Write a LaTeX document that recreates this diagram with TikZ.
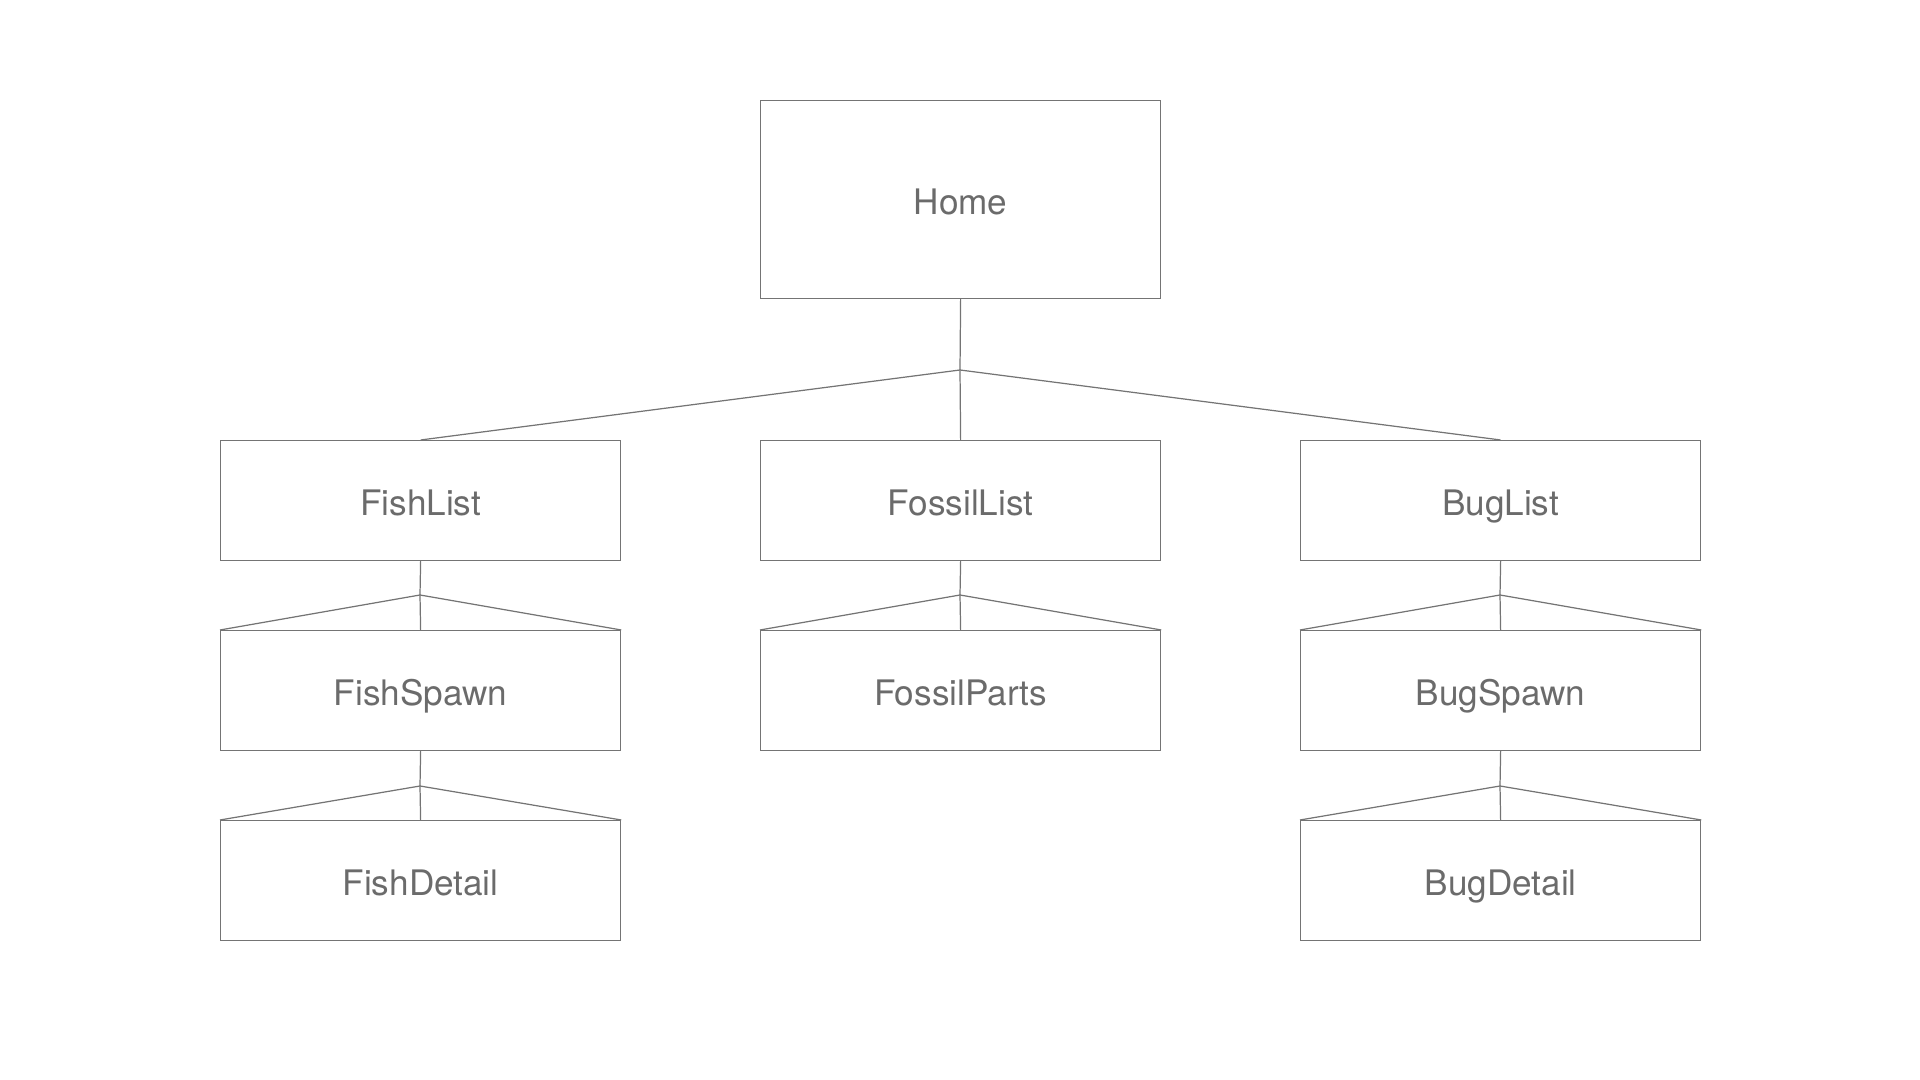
\documentclass[tikz,border=0pt]{standalone}
\usepackage{fontspec}
\setmainfont{TeX Gyre Heros}
\definecolor{linegray}{HTML}{747474}
\definecolor{textgray}{HTML}{6B6B6B}
\begin{document}
\begin{tikzpicture}[
  box/.style={rectangle, draw=linegray, line width=0.35pt, minimum width=40mm, minimum height=12mm, text=textgray, font=\fontsize{10}{12}\selectfont, text height=0.86em, text depth=0pt, anchor=north west},
  link/.style={draw=linegray, line width=0.35pt}
]
\useasboundingbox (0,0) rectangle (19.2,10.8);

\node (rect) [box, minimum height=19.8mm] at (7.6,9.8) {Home};

\node (rectA) [box] at (2.2,6.4) {FishList};
\node (rectB) [box] at (7.6,6.4) {FossilList};
\node (rectC) [box] at (13.0,6.4) {BugList};

\node (rectA0) [box] at (2.2,4.5) {FishSpawn};
\node (rectB0) [box] at (7.6,4.5) {FossilParts};
\node (rectC0) [box] at (13.0,4.5) {BugSpawn};

\node (rectA1) [box] at (2.2,2.6) {FishDetail};
\node (rectC1) [box] at (13.0,2.6) {BugDetail};

% junctions
\coordinate (j) at (9.6,7.1);
\coordinate (jA) at (4.2,4.85);
\coordinate (jB) at (9.6,4.85);
\coordinate (jC) at (15.0,4.85);
\coordinate (jA0) at (4.2,2.94);
\coordinate (jC0) at (15.0,2.94);

\draw [link] (rect.south) -- (j);
\draw [link] (j) -- (rectA.north);
\draw [link] (j) -- (rectB.north);
\draw [link] (j) -- (rectC.north);

\draw [link] (rectA.south) -- (jA);
\draw [link] (jA) -- (rectA0.north west);
\draw [link] (jA) -- (rectA0.north);
\draw [link] (jA) -- (rectA0.north east);

\draw [link] (rectB.south) -- (jB);
\draw [link] (jB) -- (rectB0.north west);
\draw [link] (jB) -- (rectB0.north);
\draw [link] (jB) -- (rectB0.north east);

\draw [link] (rectC.south) -- (jC);
\draw [link] (jC) -- (rectC0.north west);
\draw [link] (jC) -- (rectC0.north);
\draw [link] (jC) -- (rectC0.north east);

\draw [link] (rectA0.south) -- (jA0);
\draw [link] (jA0) -- (rectA1.north west);
\draw [link] (jA0) -- (rectA1.north);
\draw [link] (jA0) -- (rectA1.north east);

\draw [link] (rectC0.south) -- (jC0);
\draw [link] (jC0) -- (rectC1.north west);
\draw [link] (jC0) -- (rectC1.north);
\draw [link] (jC0) -- (rectC1.north east);
\end{tikzpicture}
\end{document}
